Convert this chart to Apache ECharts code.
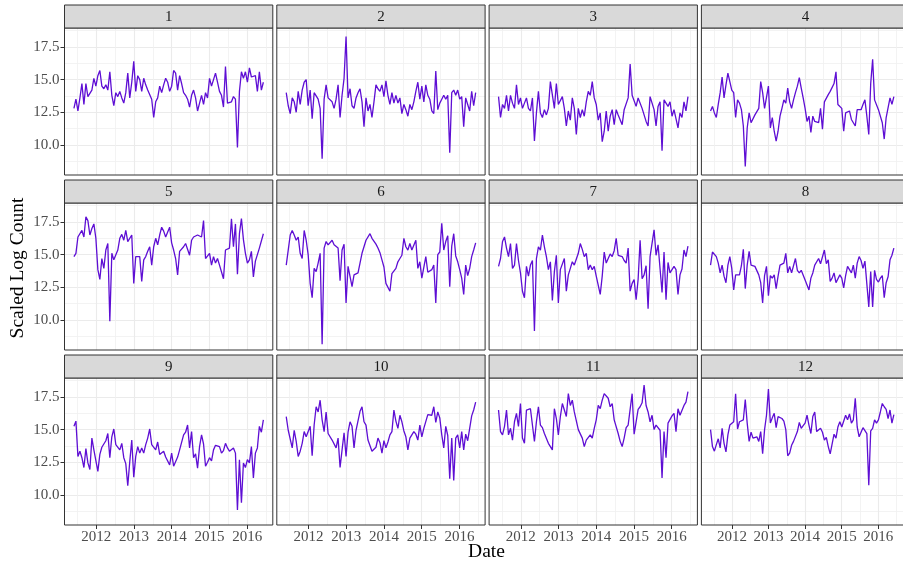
<!DOCTYPE html>
<html><head><meta charset="utf-8">
<script src="https://cdn.jsdelivr.net/npm/echarts@6/dist/echarts.min.js"></script>
<style>html,body{margin:0;padding:0;background:#fff}#chart{width:903px;height:562px}</style>
</head><body><div id="chart"></div>
<script>
// ---- data ----
const panelLabels = ['1','2','3','4','5','6','7','8','9','10','11','12'];
const startYear = 2011.41, endYear = 2016.43;   // first / last observation (decimal years)
const yearTicks = [2012, 2013, 2014, 2015, 2016];
const halfYearTicks = [2011.5, 2012.5, 2013.5, 2014.5, 2015.5, 2016.5];
const yMajorTicks = [10, 12.5, 15, 17.5];
const yMinorTicks = [8.75, 11.25, 13.75, 16.25, 18.75];

const p1 = [12.8,13.5,12.6,13.6,14.7,13.1,14.7,13.7,13.8,14.2,15.1,14.5,15.3,15.7,14.5,14.3,14.6,14.2,15.6,13.8,13.0,14.0,13.7,14.1,13.6,13.2,14.0,15.5,13.6,14.8,16.4,14.1,15.3,15.0,14.1,15.1,14.6,14.2,14.2,13.5,12.1,13.3,13.6,14.5,14.0,14.6,15.1,14.8,14.1,14.5,15.7,15.5,14.2,15.3,14.7,14.0,13.8,13.5,12.9,13.8,14.2,13.6,12.6,13.2,13.8,13.1,14.0,13.6,15.1,14.5,15.0,15.5,14.8,14.1,13.8,12.9,16.0,13.2,13.1,13.3,13.7,13.5,9.8,14.1,15.6,15.1,15.6,14.8,15.9,15.2,15.1,15.3,14.1,15.6,14.2,14.8];
const p2 = [14.0,13.0,12.4,13.6,13.3,12.5,14.1,13.1,14.2,14.8,15.0,13.0,14.2,12.0,14.0,14.1,13.5,12.8,8.95,13.5,14.6,13.6,13.5,13.3,12.8,13.5,14.6,12.1,13.8,15.1,18.3,13.6,14.3,13.0,12.8,13.6,14.0,14.3,13.3,11.4,13.6,12.6,13.1,12.1,13.3,14.6,14.3,14.1,14.6,13.7,14.9,13.8,13.1,14.0,13.2,13.8,13.2,13.6,12.4,13.1,12.7,12.2,13.1,12.7,13.3,14.1,14.8,13.5,14.5,13.3,14.6,13.8,13.5,12.6,12.4,15.65,12.7,13.2,13.5,13.8,13.5,13.8,9.4,14.0,14.2,13.8,14.2,13.5,13.7,11.4,13.6,13.1,12.6,14.1,13.0,14.0];
const p3 = [13.7,12.1,13.1,12.8,13.8,12.6,13.8,13.2,12.8,14.6,13.1,13.6,12.8,13.2,13.6,12.8,12.6,13.6,10.3,12.45,14.1,12.45,12.1,12.7,12.3,12.8,14.85,14.9,12.8,14.7,13.1,13.2,13.7,12.8,11.45,12.6,11.9,13.6,12.8,10.8,12.8,12.1,12.7,12.2,13.3,14.1,13.8,14.85,13.6,13.1,11.9,12.45,10.25,11.05,12.6,11.05,12.2,12.7,11.55,12.7,12.3,12.3,11.55,12.7,12.8,13.6,16.2,13.8,13.7,12.95,13.6,13.5,12.8,12.7,11.8,11.45,13.7,13.2,12.7,11.45,12.95,13.3,9.55,13.45,13.45,12.95,13.3,12.2,12.7,12.6,11.3,12.45,12.1,13.3,12.6,13.7];
const p4 = [12.6,12.95,12.45,12.1,13.1,14.0,15.2,13.6,14.6,15.5,15.6,14.2,14.0,12.1,13.45,13.2,12.7,11.45,8.35,11.3,12.45,11.7,11.8,12.3,12.2,12.8,14.85,14.0,12.8,12.8,14.5,11.3,12.1,11.05,10.3,11.05,12.2,12.8,13.45,13.2,14.35,13.3,12.8,13.45,14.0,14.5,15.15,14.35,13.6,12.8,11.8,12.2,10.95,12.2,11.8,11.7,11.7,12.8,11.2,13.3,13.3,13.85,14.1,14.1,14.7,15.6,13.1,13.1,12.8,11.05,12.45,12.3,12.6,11.95,11.95,11.45,12.7,12.6,12.7,13.1,13.45,12.2,10.8,14.7,16.55,13.45,13.45,12.7,12.6,11.7,10.45,12.1,12.2,13.6,13.1,13.7];
const p5 = [14.85,15.1,16.35,16.5,16.85,16.35,17.9,17.6,16.5,17.0,17.35,16.25,13.85,13.1,14.7,13.95,15.35,15.85,9.9,15.1,14.6,14.6,15.35,16.25,16.55,16.1,16.85,16.0,16.0,16.5,12.8,14.85,14.85,14.85,12.95,14.6,14.85,15.25,15.6,14.2,15.6,16.25,15.75,16.5,17.1,16.8,16.35,16.4,17.1,15.9,15.35,14.7,13.45,15.25,15.1,15.6,15.85,15.75,14.95,16.1,16.35,16.25,16.5,16.6,16.35,17.6,14.7,14.85,15.1,14.2,14.85,14.35,14.7,14.2,14.2,13.15,15.35,15.4,15.5,17.75,15.6,17.35,13.5,16.6,17.75,16.15,15.1,14.35,14.6,15.25,13.3,14.5,14.6,15.5,15.5,16.6];
const p6 = [14.2,15.35,16.5,16.85,16.5,16.1,16.35,15.1,14.7,16.85,16.1,15.0,12.8,11.7,13.95,13.7,14.35,15.1,8.15,15.5,16.0,15.75,15.75,16.1,15.75,15.85,15.5,13.0,15.35,15.8,11.3,14.1,14.1,12.55,13.45,13.45,13.6,14.35,15.1,15.2,16.1,16.25,16.6,16.25,16.35,15.8,15.5,15.15,14.6,14.05,12.8,12.95,12.2,13.55,13.45,13.95,14.45,14.7,14.95,16.25,15.6,15.35,15.85,15.35,15.2,16.1,13.95,14.45,13.2,13.2,14.85,13.65,13.6,13.85,14.2,11.3,15.0,15.2,17.4,15.35,16.0,16.45,12.55,15.65,16.6,14.9,14.45,13.85,13.2,11.95,14.2,13.4,13.95,14.85,15.35,15.9];
const p7 = [14.1,14.7,16.0,16.35,15.5,14.85,15.85,13.95,14.2,15.85,14.55,13.6,12.2,11.7,14.1,13.35,14.2,14.55,9.15,14.7,15.6,15.35,16.5,15.6,14.85,13.85,14.45,11.5,13.7,14.95,11.3,13.85,13.85,14.7,12.2,13.45,13.95,14.45,14.2,14.2,15.1,15.85,15.4,14.85,15.1,13.85,14.2,13.85,14.1,13.35,13.35,11.95,13.35,15.2,14.35,14.7,15.05,14.85,15.3,16.25,14.95,14.9,14.85,14.55,14.35,15.5,12.2,12.8,13.1,11.55,13.1,16.1,13.15,13.45,14.15,10.85,14.85,14.9,16.9,14.95,15.75,15.8,12.1,15.2,11.55,14.4,13.6,13.45,14.1,13.85,11.95,13.45,13.9,15.35,14.85,15.65];
const p8 = [14.2,15.2,15.35,14.85,14.35,13.6,14.2,13.35,12.85,14.2,14.85,13.95,12.3,13.45,13.4,13.45,14.15,15.4,12.4,14.2,15.25,14.2,14.3,14.1,14.15,13.45,12.85,11.3,13.4,14.1,11.85,13.4,13.2,13.45,12.4,13.35,14.2,14.15,14.35,15.1,13.6,14.1,13.6,13.75,14.7,13.8,13.6,13.8,13.85,13.05,12.95,12.3,13.2,13.6,14.2,14.15,14.7,14.3,14.45,15.35,14.3,14.6,12.95,13.2,13.6,12.85,12.9,13.45,13.2,12.45,13.4,14.1,13.85,13.6,14.2,13.2,14.35,14.85,14.55,13.95,14.5,14.45,11.0,13.7,11.0,13.8,13.1,12.9,13.2,13.4,11.7,12.85,13.3,14.6,14.95,15.5];
const p9 = [15.25,15.65,12.95,13.35,12.85,12.1,13.55,12.45,11.95,14.35,13.45,13.35,11.8,13.1,13.65,13.6,14.15,14.7,12.85,14.45,15.05,13.85,13.7,13.45,13.95,12.85,12.4,10.7,12.55,14.2,11.35,12.95,13.7,13.2,13.6,13.2,13.85,14.35,15.05,13.85,13.9,13.45,14.05,13.1,13.15,13.35,12.9,12.95,12.3,13.2,12.2,12.3,12.9,13.45,13.6,14.6,14.8,15.35,13.6,14.85,12.85,13.15,12.05,13.7,14.6,13.9,12.2,12.5,12.85,12.6,13.45,13.8,13.85,13.7,13.2,13.4,13.95,13.6,13.35,13.2,13.6,13.2,8.85,12.7,9.4,12.45,12.1,12.7,12.45,13.7,11.3,13.2,13.6,15.25,14.8,15.75];
const p10 = [16.0,14.95,14.85,13.6,14.95,14.1,12.95,13.35,13.95,14.85,14.45,14.45,15.25,13.0,15.35,16.75,16.35,17.25,15.75,14.85,16.35,14.7,14.55,14.2,14.3,13.6,14.35,12.1,13.45,14.75,12.95,14.8,15.6,15.25,13.6,14.95,15.1,16.4,16.75,15.6,15.35,14.2,14.2,13.35,13.35,13.65,14.35,14.0,13.2,14.15,13.6,14.05,14.6,14.85,16.5,15.65,15.1,16.1,15.6,14.9,14.45,13.45,14.35,14.45,14.85,14.65,14.2,15.35,14.45,15.1,15.25,16.15,16.1,16.1,16.75,15.55,16.35,15.9,14.6,13.6,15.25,14.55,11.25,14.35,11.1,14.35,14.6,13.6,14.85,13.45,14.65,14.15,15.1,16.05,16.5,17.1];
const p11 = [16.5,14.85,14.6,15.25,16.5,14.6,15.1,14.2,15.6,16.25,15.25,17.0,14.35,13.95,16.5,16.5,16.6,16.5,14.1,15.6,16.75,15.35,15.15,14.7,14.7,13.95,14.1,13.45,16.6,15.85,14.6,16.0,17.0,16.85,16.0,17.75,16.85,17.25,16.35,16.35,15.0,14.9,14.35,13.7,14.2,14.1,14.6,14.35,15.1,15.75,16.85,16.6,17.25,17.75,17.9,17.4,16.75,17.0,15.75,15.6,14.7,14.1,13.7,14.35,15.15,15.35,16.55,17.75,14.65,15.6,16.55,16.75,17.05,18.4,16.85,16.35,15.6,16.1,15.0,15.35,15.35,14.95,11.3,14.85,12.85,15.5,15.5,16.05,16.25,14.85,16.6,16.1,16.1,16.85,17.1,17.9];
const p12 = [15.0,13.7,13.35,13.85,14.3,13.6,15.1,13.95,13.3,14.6,15.35,15.5,15.6,17.75,15.05,15.6,15.55,15.75,17.3,15.5,14.1,14.8,14.35,14.4,14.45,14.1,14.85,13.15,15.0,16.1,18.1,15.5,15.9,16.25,15.15,16.0,16.05,15.85,15.65,15.0,13.0,13.2,13.8,14.1,14.1,14.85,15.55,15.1,15.3,15.5,16.1,15.35,14.7,16.0,16.35,14.85,14.9,15.1,14.8,14.2,14.4,13.7,13.15,13.2,14.65,14.35,15.2,15.6,15.2,15.1,16.1,15.75,16.2,15.5,15.75,17.4,15.2,14.45,14.35,15.15,15.1,14.7,10.75,14.9,15.1,15.75,15.5,15.75,16.35,17.0,16.75,16.55,15.85,16.5,15.5,16.15];
const panelValues = [p1,p2,p3,p4,p5,p6,p7,p8,p9,p10,p11,p12];

// ---- layout / style ----
const LEFT0 = 64.5, COLSTEP = 212.3, PW = 208.3;
const TOP0 = 28, ROWSTEP = 175, PH = 147, STRIPH = 23;
const X_MIN = 2011.16, X_MAX = 2016.68, Y_MIN = 7.7, Y_MAX = 18.95;
const LINE_COLOR = '#5E0ED4';
const FONT = 'Liberation Serif';

const grids = [], xAxes = [], yAxes = [], series = [], graphics = [];
panelValues.forEach((vals, k) => {
  const col = k % 4, row = Math.floor(k / 4);
  const left = LEFT0 + col * COLSTEP, top = TOP0 + row * ROWSTEP;
  const bottomRow = row === 2, leftCol = col === 0;
  grids.push({left, top, width: PW, height: PH, show: false, containLabel: false});
  // major x
  xAxes.push({type: 'value', gridIndex: k, min: X_MIN, max: X_MAX, position: 'bottom',
    axisLine: {show: false},
    axisTick: {show: bottomRow, customValues: yearTicks, length: 4, lineStyle: {color: '#333', width: 1}},
    axisLabel: {show: bottomRow, customValues: yearTicks, margin: 5, fontFamily: FONT, fontSize: 15, color: '#4d4d4d',
      formatter: v => String(Math.round(v))},
    splitLine: {show: true, lineStyle: {color: '#ebebeb', width: 1.1}}});
  // minor x
  xAxes.push({type: 'value', gridIndex: k, min: X_MIN, max: X_MAX, position: 'top',
    axisLine: {show: false}, axisTick: {show: false, customValues: halfYearTicks},
    axisLabel: {show: false}, splitLine: {show: true, lineStyle: {color: '#f0f0f0', width: 0.8}}});
  // major y
  yAxes.push({type: 'value', gridIndex: k, min: Y_MIN, max: Y_MAX, position: 'left',
    axisLine: {show: false},
    axisTick: {show: leftCol, customValues: yMajorTicks, length: 4, lineStyle: {color: '#333', width: 1}},
    axisLabel: {show: leftCol, customValues: yMajorTicks, margin: 5, fontFamily: FONT, fontSize: 15, color: '#4d4d4d',
      formatter: v => Number(v).toFixed(1)},
    splitLine: {show: true, lineStyle: {color: '#ebebeb', width: 1.1}}});
  // minor y
  yAxes.push({type: 'value', gridIndex: k, min: Y_MIN, max: Y_MAX, position: 'right',
    axisLine: {show: false}, axisTick: {show: false, customValues: yMinorTicks},
    axisLabel: {show: false}, splitLine: {show: true, lineStyle: {color: '#f0f0f0', width: 0.8}}});
  const step = (endYear - startYear) / (vals.length - 1);
  series.push({type: 'line', xAxisIndex: 2 * k, yAxisIndex: 2 * k, showSymbol: false, symbol: 'none',
    animation: false, clip: true, z: 5,
    lineStyle: {color: LINE_COLOR, width: 1.3},
    data: vals.map((v, i) => [startYear + i * step, v])});
  // panel border
  graphics.push({type: 'rect', z: 100, shape: {x: left, y: top, width: PW, height: PH},
    style: {fill: 'none', stroke: '#333', lineWidth: 1}});
  // strip
  graphics.push({type: 'rect', z: 100, shape: {x: left, y: top - STRIPH, width: PW, height: STRIPH},
    style: {fill: '#d9d9d9', stroke: '#333', lineWidth: 1}});
  graphics.push({type: 'text', z: 101, x: left + PW / 2, y: top - STRIPH / 2 + 1,
    style: {text: panelLabels[k], font: '15px "' + FONT + '"', fill: '#1a1a1a', align: 'center', verticalAlign: 'middle'}});
});
graphics.push({type: 'text', z: 101, x: 18, y: 268, rotation: Math.PI / 2,
  style: {text: 'Scaled Log Count', font: '19.5px "' + FONT + '"', fill: '#000', align: 'center', verticalAlign: 'middle'}});
graphics.push({type: 'text', z: 101, x: 486.5, y: 552,
  style: {text: 'Date', font: '19.5px "' + FONT + '"', fill: '#000', align: 'center', verticalAlign: 'middle'}});

const chart = echarts.init(document.getElementById('chart'), null, {renderer: 'canvas'});
chart.setOption({
  animation: false, backgroundColor: '#fff',
  grid: grids, xAxis: xAxes, yAxis: yAxes, series, graphic: graphics
});
</script></body></html>
